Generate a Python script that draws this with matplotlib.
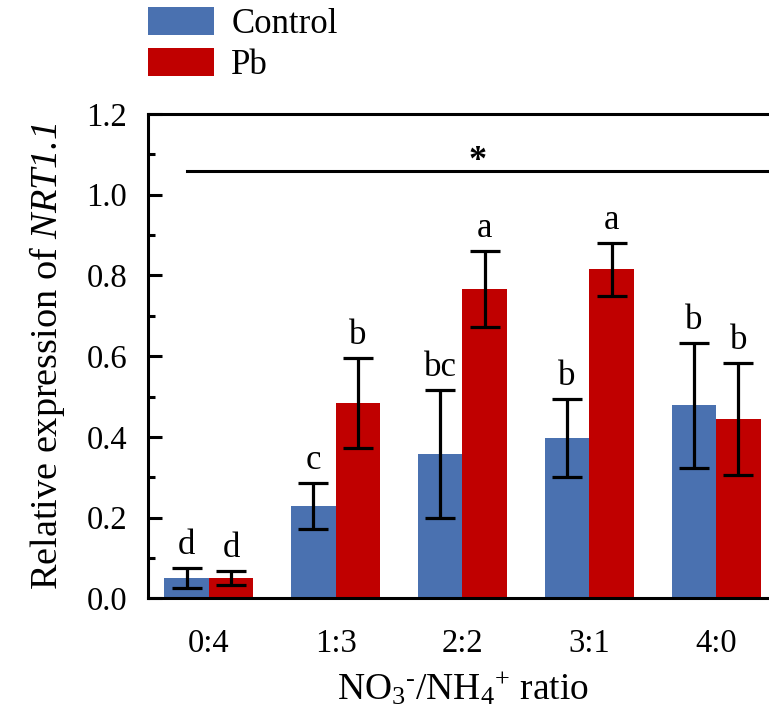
import numpy as np
import matplotlib
matplotlib.use("Agg")
import matplotlib.pyplot as plt
from matplotlib.ticker import MultipleLocator

plt.rcParams['font.family'] = ['Liberation Serif', 'DejaVu Serif']
plt.rcParams['mathtext.fontset'] = 'custom'
plt.rcParams['mathtext.rm'] = 'Liberation Serif'
plt.rcParams['mathtext.it'] = 'Liberation Serif:italic'
plt.rcParams['mathtext.sf'] = 'Liberation Serif:italic'

# data
ratios = ['0:4', '1:3', '2:2', '3:1', '4:0']
control = [0.051, 0.229, 0.357, 0.397, 0.478]
control_err = [0.025, 0.057, 0.158, 0.096, 0.154]
pb = [0.050, 0.484, 0.766, 0.815, 0.444]
pb_err = [0.018, 0.112, 0.094, 0.066, 0.138]
control_letters = ['d', 'c', 'bc', 'b', 'b']
pb_letters = ['d', 'b', 'a', 'a', 'b']

blue = '#4A71B0'
red = '#C00000'

fig = plt.figure(figsize=(7.69, 7.17), dpi=100)
ax = fig.add_axes([148 / 769, 118.7 / 717, 629 / 769, 484.3 / 717])

x = np.arange(len(ratios))
w = 0.35

ax.bar(x - w / 2, control, w, color=blue, label='Control')
ax.bar(x + w / 2, pb, w, color=red, label='Pb')
ax.errorbar(x - w / 2, control, yerr=control_err, fmt='none', ecolor='black',
            elinewidth=2.3, capsize=11, capthick=2.3)
ax.errorbar(x + w / 2, pb, yerr=pb_err, fmt='none', ecolor='black',
            elinewidth=2.3, capsize=11, capthick=2.3)

# significance letters
for i in range(len(ratios)):
    ax.text(x[i] - w / 2, control[i] + control_err[i] + 0.035, control_letters[i],
            ha='center', va='baseline', fontsize=25)
    ax.text(x[i] + w / 2, pb[i] + pb_err[i] + 0.035, pb_letters[i],
            ha='center', va='baseline', fontsize=25)

# overall significance line
ax.plot([-0.17, 4.6], [1.06, 1.06], color='black', lw=2.2)
ax.text(2.12, 1.082, '*', ha='center', va='center', fontsize=26, fontweight='bold')

ax.set_xlim(-0.48, 4.48)
ax.set_ylim(0, 1.2)
ax.set_xticks(x)
ax.set_xticklabels(ratios)
ax.yaxis.set_major_locator(MultipleLocator(0.2))
ax.yaxis.set_minor_locator(MultipleLocator(0.1))
ax.yaxis.set_major_formatter(matplotlib.ticker.FormatStrFormatter('%.1f'))

ax.tick_params(axis='y', which='major', direction='in', length=10, width=2.2,
               labelsize=23.5, pad=15)
ax.tick_params(axis='y', which='minor', direction='in', length=5, width=2.2)
ax.tick_params(axis='x', length=0, labelsize=23.5, pad=22)

for s in ax.spines.values():
    s.set_linewidth(2.2)

ax.set_ylabel(r'Relative expression of $\mathsf{NRT1.1}$', fontsize=27.5, labelpad=14)
ax.set_xlabel(r'NO$_3$$^{\text{-}}$/NH$_4$$^{+}$ ratio', fontsize=27, labelpad=8)

fig.legend(loc='upper left', bbox_to_anchor=(148 / 769, 1 - 7 / 717), frameon=False,
           fontsize=25, handlelength=1.9, handleheight=0.85, handletextpad=0.5,
           labelspacing=0.2, borderpad=0, borderaxespad=0)

fig.savefig('out.png', dpi=100)
